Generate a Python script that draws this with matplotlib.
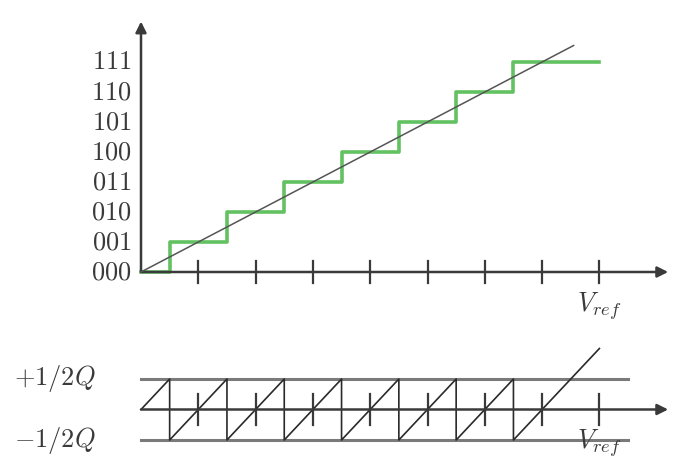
import numpy as np
import matplotlib
matplotlib.use("Agg")
import matplotlib.pyplot as plt

plt.rcParams['mathtext.fontset'] = 'cm'

# transfer characteristic of a 3-bit ADC
codes = ['000', '001', '010', '011', '100', '101', '110', '111']
tick_pos = [1, 2, 3, 4, 5, 6, 7, 8]
step_x = [0, 0.5, 1.5, 2.5, 3.5, 4.5, 5.5, 6.5, 8.0]
step_y = [0, 1, 2, 3, 4, 5, 6, 7, 7]
ideal_end = 7.55
err_lines = [0.5, -0.5]
err_labels = [r'$+1/2Q$', r'$-1/2Q$']

W, H = 673, 463
fig = plt.figure(figsize=(W / 100, H / 100), dpi=100)

# pixel mapping: origin at x=141, 57.3 px per step
x0, sx = 141.0, 57.3
xlim = ((0 - x0) / sx, (W - x0) / sx)

# top panel: levels 30 px apart, zero at y=272
top = fig.add_axes([0, (H - 330) / H, 1, 330 / H])
top.set_xlim(*xlim)
top.set_ylim((272 - 330) / 30, 272 / 30)
# bottom panel: 61 px per Q, zero at y=409.5
bot = fig.add_axes([0, 0, 1, (H - 330) / H])
bot.set_xlim(*xlim)
bot.set_ylim((409.5 - 463) / 61, (409.5 - 330) / 61)

for ax in (top, bot):
    ax.axis('off')

axis_col = '#3a3a3a'
txt_col = '#3a3a3a'
arrow = dict(arrowstyle='-|>', lw=1.8, color=axis_col, mutation_scale=16,
             shrinkA=0, shrinkB=0)

# ---- top panel ----
top.annotate('', xy=(9.2, 0), xytext=(0, 0), arrowprops=arrow)
top.annotate('', xy=(0, 8.35), xytext=(0, 0), arrowprops=arrow)
for t in tick_pos:
    top.plot([t, t], [-0.37, 0.37], color=axis_col, lw=1.6)

top.plot([0, ideal_end], [0, ideal_end], color='#555555', lw=1.1, zorder=3)
top.step(step_x, step_y, where='post', color='#62c262', lw=2.6, zorder=2)

for i, c in enumerate(codes):
    top.text(-0.17, i, '$' + c + '$', ha='right', va='center', fontsize=19,
             color=txt_col)
top.text(tick_pos[-1], -1.15, r'$V_{ref}$', ha='center', va='center',
         fontsize=19, color=txt_col)

# ---- bottom panel: quantisation error ----
for e in err_lines:
    bot.plot([0, 8.5], [e, e], color='#7a7a7a', lw=2.2)
bot.annotate('', xy=(9.2, 0), xytext=(0, 0), arrowprops=arrow)
for t in tick_pos:
    bot.plot([t, t], [-0.25, 0.25], color=axis_col, lw=1.6)

ex, ey = [], []
for i in range(len(step_x) - 1):
    a, b = step_x[i], step_x[i + 1]
    lvl = step_y[i]
    ex += [a, b]
    ey += [a - lvl, b - lvl]
bot.plot(ex, ey, color='#2a2a2a', lw=1.2)

for e, lab in zip(err_lines, err_labels):
    bot.text(-0.8, e, lab, ha='right', va='center', fontsize=19, color=txt_col)
bot.text(tick_pos[-1], -0.55, r'$V_{ref}$', ha='center', va='center',
         fontsize=19, color=txt_col)

fig.savefig('out.png', dpi=100)
